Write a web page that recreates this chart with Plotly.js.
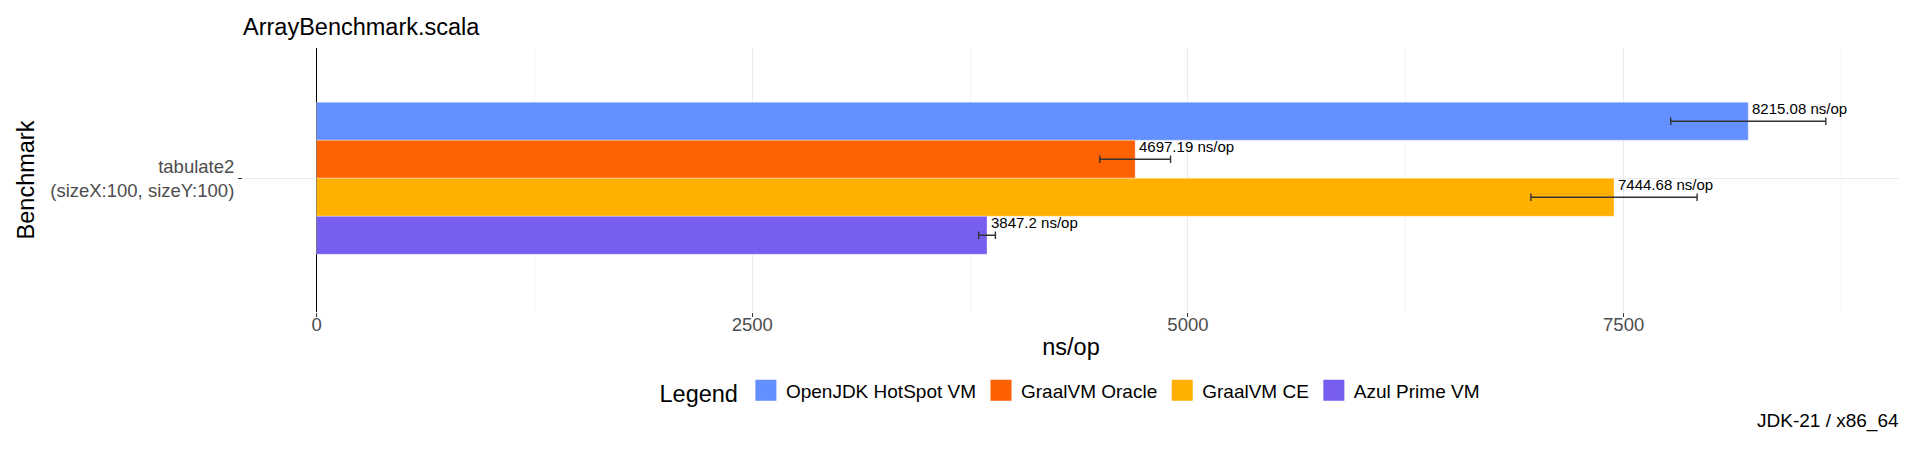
<!DOCTYPE html>
<html>
<head>
<meta charset="utf-8">
<script src="https://cdn.plot.ly/plotly-3.0.1.min.js"></script>
<style>
  html, body { margin: 0; padding: 0; background: #ffffff; }
  #chart { width: 1920px; height: 454px; }
</style>
</head>
<body>
<div id="chart"></div>
<script>
// ---- data ----
const benchmarks = ["tabulate2<br>(sizeX:100, sizeY:100)"];
const vmNames = ["OpenJDK HotSpot VM", "GraalVM Oracle", "GraalVM CE", "Azul Prime VM"];
const scores = [8215.08, 4697.19, 7444.68, 3847.2];
const scoreErrors = [445, 203, 477, 48];
const unitLabel = "ns/op";
const xTicks = [0, 2500, 5000, 7500];

// ---- style ----
const palette = ["#648FFF", "#FE6100", "#FFB000", "#785EF0"];
const FONT = "Liberation Sans, Arial, Helvetica, sans-serif";
const W = 1920, H = 454;
const margin = {l: 243, r: 21, t: 48, b: 142, pad: 0};
const yRange = [0.608, -0.592];
const bargap = 0.309;

const traces = [];
vmNames.forEach((name, i) => {
  traces.push({
    type: "bar",
    orientation: "h",
    name: name,
    x: [scores[i]],
    y: benchmarks,
    marker: {color: palette[i], line: {color: "rgba(255,255,255,0.35)", width: 1}},
    error_x: {type: "data", array: [scoreErrors[i]], visible: true,
              color: "#333333", thickness: 1.4, width: 3.7},
    showlegend: false,
    hoverinfo: "x+name"
  });
});
// legend entries (larger swatches than bar legend symbols)
vmNames.forEach((name, i) => {
  traces.push({
    type: "scatter",
    mode: "markers",
    name: name,
    x: [null],
    y: [null],
    marker: {symbol: "square", size: 16, color: palette[i],
             line: {color: palette[i], width: 5}},
    showlegend: true,
    hoverinfo: "skip"
  });
});

// label placement derived from the bar layout
const plotH = H - margin.t - margin.b;
const pxPerUnit = plotH / Math.abs(yRange[0] - yRange[1]);
const barPx = (1 - bargap) / vmNames.length * pxPerUnit;
const annotations = scores.map((v, i) => {
  const offsetDown = (i - (vmNames.length - 1) / 2) * barPx;
  return {
    x: v, y: benchmarks[0], xref: "x", yref: "y",
    text: v + " " + unitLabel,
    showarrow: false, xanchor: "left", yanchor: "middle",
    xshift: 2, yshift: -offsetDown + 12.5,
    font: {family: FONT, size: 15, color: "#000000"}
  };
});
annotations.push({
  text: "JDK-21 / x86_64",
  xref: "paper", yref: "paper", x: 1, y: (plotH - (421 - margin.t)) / plotH,
  xanchor: "right", yanchor: "middle", xshift: 2, showarrow: false,
  font: {family: FONT, size: 19, color: "#000000"}
});

const layout = {
  width: W, height: H,
  margin: margin,
  paper_bgcolor: "#ffffff",
  plot_bgcolor: "#ffffff",
  font: {family: FONT, color: "#000000"},
  barmode: "group",
  bargap: bargap,
  bargroupgap: 0,
  title: {
    text: "ArrayBenchmark.scala",
    font: {family: FONT, size: 23.5, color: "#000000"},
    xref: "paper", x: 0, xanchor: "left",
    yref: "container", y: 1 - 27 / H, yanchor: "middle"
  },
  xaxis: {
    range: [-422, 9080],
    tickvals: xTicks,
    ticktext: xTicks.map(String),
    showgrid: true, gridcolor: "#EBEBEB", gridwidth: 1,
    minor: {dtick: 1250, tick0: 0, showgrid: true, gridcolor: "#F3F3F3", gridwidth: 0.8},
    zeroline: true, zerolinecolor: "#000000", zerolinewidth: 1.3,
    showline: false,
    ticks: "outside", ticklen: 4, tickwidth: 1, tickcolor: "#333333",
    ticklabelstandoff: -8,
    tickfont: {family: FONT, size: 18.5, color: "#4D4D4D"},
    title: {text: unitLabel, font: {family: FONT, size: 23.5, color: "#000000"}, standoff: 4},
    automargin: false,
    fixedrange: true
  },
  yaxis: {
    type: "category",
    range: yRange,
    autorange: false,
    showgrid: true, gridcolor: "#EBEBEB", gridwidth: 1,
    zeroline: false, showline: false,
    ticks: "outside", ticklen: 4, tickwidth: 1, tickcolor: "#333333",
    tickfont: {family: FONT, size: 18.5, color: "#4D4D4D"},
    title: {text: "Benchmark", font: {family: FONT, size: 23.5, color: "#000000"}, standoff: 8},
    automargin: false,
    fixedrange: true
  },
  legend: {
    orientation: "h",
    xref: "paper", x: 0.5, xanchor: "center",
    yref: "paper", y: (plotH - (392 - margin.t)) / plotH, yanchor: "middle",
    title: {text: "Legend", side: "left", font: {family: FONT, size: 23.5, color: "#000000"}},
    font: {family: FONT, size: 19, color: "#000000"},
    itemwidth: 30,
    bgcolor: "rgba(0,0,0,0)"
  },
  annotations: annotations,
  showlegend: true
};

Plotly.newPlot("chart", traces, layout, {displayModeBar: false, staticPlot: true});
</script>
</body>
</html>
